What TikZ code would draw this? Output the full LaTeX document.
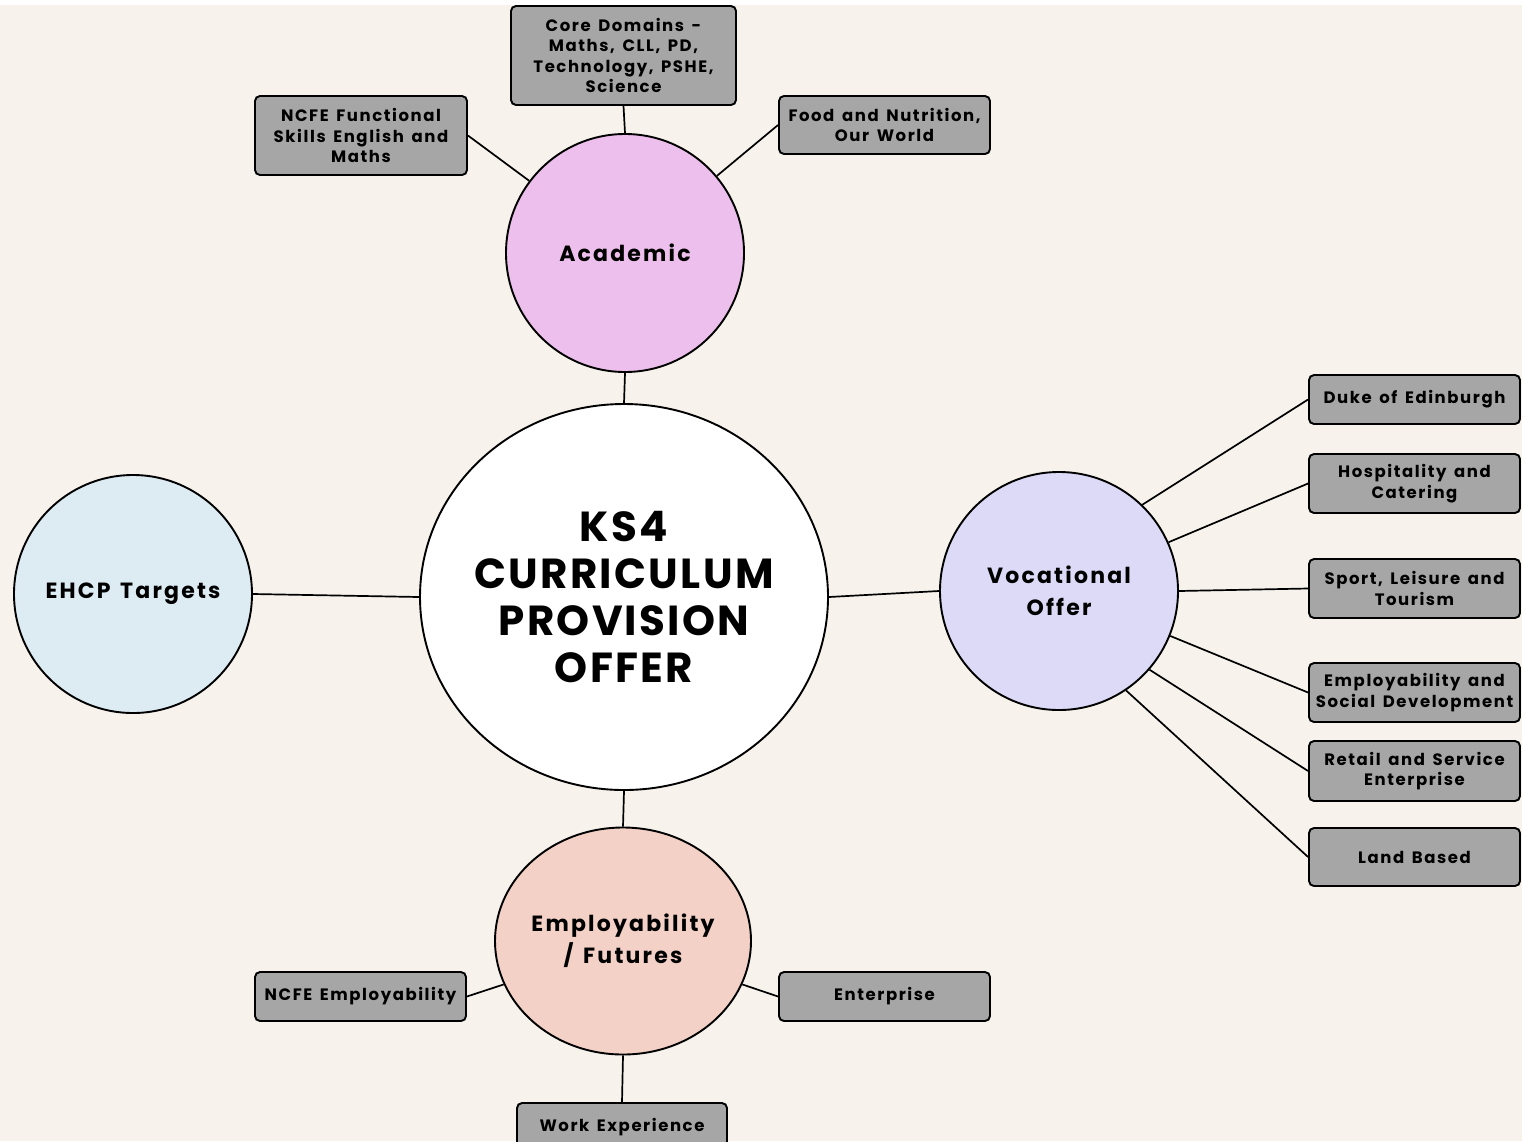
\documentclass[tikz,border=0pt]{standalone}
\usepackage{fontspec}
\setmainfont{Poppins}
\newfontfamily\boxfont{Poppins}[LetterSpace=9.5, WordSpace=1.5]
\newfontfamily\hubfont{Poppins}[LetterSpace=10, WordSpace=1.4]
\newfontfamily\titlefont{Poppins}[LetterSpace=5.5]
\usetikzlibrary{shapes.geometric}

\definecolor{paper}{HTML}{F7F3EC}
\definecolor{boxgray}{HTML}{A6A6A6}
\definecolor{acadpink}{HTML}{EDBFEC}
\definecolor{ehcpblue}{HTML}{DDEBF3}
\definecolor{vocpurple}{HTML}{DDDAF7}
\definecolor{emppeach}{HTML}{F3D1C7}

\tikzset{
  hubtext/.style={align=center, font=\hubfont\fontsize{22}{32}\selectfont\bfseries},
  hub/.style={circle, draw=black, line width=1.9pt, minimum size=238pt, inner sep=0pt, hubtext},
  topic/.style={rectangle, rounded corners=5pt, draw=black, line width=1.9pt, fill=boxgray,
    inner sep=2pt, align=center, minimum width=211pt,
    font=\boxfont\fontsize{16.5}{20.5}\selectfont\bfseries},
  link/.style={draw=black, line width=1.7pt},
}

\begin{document}
\begin{tikzpicture}[x=1pt, y=-1pt]
  % page background
  \fill[paper] (0,0) rectangle (1522,1141);
  \fill[white] (0,0) rectangle (1522,5);
  \clip (0,0) rectangle (1522,1141);

  % central offer (text set as a centred label so the ellipse keeps its size)
  \node[ellipse, draw=black, line width=1.9pt, fill=white, minimum width=408pt,
        minimum height=386pt, inner sep=0pt,
        label={[align=center, font=\titlefont\fontsize{42}{47}\selectfont\bfseries]center:{KS4\\CURRICULUM\\PROVISION\\OFFER}}]
        (core) at (624,597) {};

  % four strands
  \node[hub, fill=acadpink] (acad) at (625,253) {Academic};
  \node[hub, fill=ehcpblue] (ehcp) at (133,594) {EHCP Targets};
  \node[hub, fill=vocpurple] (voc) at (1059,591) {Vocational\\Offer};
  \node[ellipse, draw=black, line width=1.9pt, fill=emppeach, minimum width=256pt,
        minimum height=227pt, inner sep=0pt,
        label={[hubtext]center:{Employability\\/ Futures}}]
        (emp) at (623,941) {};

  % academic topics
  \node[topic, minimum width=225pt, minimum height=99pt] (coredom) at (623.5,55.5)
        {Core Domains -\\Maths, CLL, PD,\\Technology, PSHE,\\Science};
  \node[topic, minimum width=212pt, minimum height=79pt] (ncfefs) at (361,135.5)
        {NCFE Functional\\Skills English and\\Maths};
  \node[topic, minimum height=58pt] (food) at (884.5,125)
        {Food and Nutrition,\\Our World};

  % vocational topics
  \node[topic, minimum height=49pt] (duke) at (1414.5,399.5) {Duke of Edinburgh};
  \node[topic, minimum height=59pt] (hosp) at (1414.5,483.5) {Hospitality and\\Catering};
  \node[topic, minimum height=59pt] (sport) at (1414.5,588.5) {Sport, Leisure and\\Tourism};
  \node[topic, minimum height=59pt] (esd) at (1414.5,692.5) {Employability and\\Social Development};
  \node[topic, minimum height=60pt] (retail) at (1414.5,771) {Retail and Service\\Enterprise};
  \node[topic, minimum height=58pt] (land) at (1414.5,857) {Land Based};

  % employability topics
  \node[topic, minimum height=49pt] (ncfeemp) at (360.5,996.5) {NCFE Employability};
  \node[topic, minimum height=49pt] (enter) at (884.5,996.5) {Enterprise};
  \node[topic, minimum width=210pt, minimum height=49pt] (workexp) at (622,1127.5) {Work Experience};

  % connectors
  \draw[link] (acad.south) -- (core.north);
  \draw[link] (core.south) -- (emp.north);
  \draw[link] (core.west) -- (ehcp.east);
  \draw[link] (core.east) -- (voc.west);

  \draw[link] (coredom.south) -- (acad.north);
  \draw[link] (ncfefs.east) -- (acad.143);
  \draw[link] (food.west) -- (acad.40);

  \draw[link] (voc.46) -- (duke.west);
  \draw[link] (voc.24) -- (hosp.west);
  \draw[link] (voc.east) -- (sport.west);
  \draw[link] (voc.-22.5) -- (esd.west);
  \draw[link] (voc.-41.7) -- (retail.west);
  \draw[link] (voc.-56.8) -- (land.west);

  \draw[link] (ncfeemp.east) -- (emp.200);
  \draw[link] (enter.west) -- (emp.-20);
  \draw[link] (emp.south) -- (workexp.north);
\end{tikzpicture}
\end{document}
